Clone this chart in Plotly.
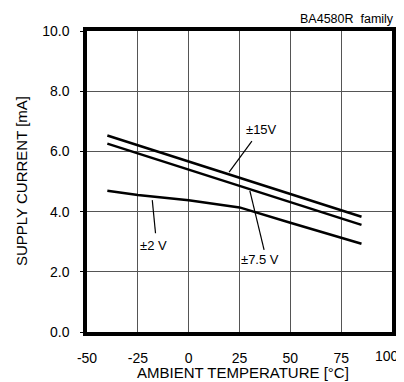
import plotly.graph_objects as go

temp_15 = [-40, 85]
cur_15 = [6.53, 3.83]
temp_75 = [-40, 85]
cur_75 = [6.26, 3.56]
temp_2 = [-40, -25, 0, 25, 50, 85]
cur_2 = [4.69, 4.55, 4.38, 4.14, 3.63, 2.93]

x_ticks = [-50, -25, 0, 25, 50, 75, 100]
y_ticks = [0, 2, 4, 6, 8, 10]

font = "Liberation Sans, Arial, sans-serif"
fig = go.Figure()
for xs, ys, nm in [(temp_15, cur_15, "±15V"), (temp_75, cur_75, "±7.5 V"), (temp_2, cur_2, "±2 V")]:
    fig.add_trace(go.Scatter(x=xs, y=ys, mode="lines", name=nm,
                             line=dict(color="black", width=2.5), showlegend=False))

# leader lines
leaders = [((31.1, 6.34), (19.9, 5.31)), ((30.1, 4.69), (37.1, 2.73)), ((-17.9, 4.38), (-16.3, 3.28))]
for (x0, y0), (x1, y1) in leaders:
    fig.add_shape(type="line", x0=x0, y0=y0, x1=x1, y1=y1, line=dict(color="black", width=1.2))

labels = [(36, 6.73, "±15V"), (35, 2.41, "±7.5 V"), (-17.4, 2.87, "±2 V")]
for x, y, t in labels:
    fig.add_annotation(x=x, y=y, text=t, showarrow=False, font=dict(size=13, color="black", family=font))

fig.add_annotation(xref="paper", yref="paper", x=1.0, y=1.0, yshift=12, xshift=4, xanchor="right", yanchor="middle",
                   text="BA4580R  family", showarrow=False, font=dict(size=12.5, color="black", family=font))

# last x tick label is nudged left (as in the reference) so it stays inside the page
x_ticktext = [str(v) for v in x_ticks]
last_label = x_ticktext[-1]
x_ticktext[-1] = ""
fig.add_annotation(x=x_ticks[-1], y=0, yshift=-24, xshift=-5, xanchor="center", yanchor="middle",
                   text=last_label, showarrow=False, font=dict(size=14, color="black", family=font))

# axis titles
fig.add_annotation(xref="paper", yref="paper", x=0.5, y=0, yshift=-40, xshift=3, xanchor="center", yanchor="middle",
                   text="AMBIENT TEMPERATURE [°C]", showarrow=False, font=dict(size=15, color="black", family=font))
fig.add_annotation(xref="paper", yref="paper", x=0, y=0.5, xshift=-65.5, xanchor="center", yanchor="middle",
                   textangle=-90, text="SUPPLY CURRENT [mA]", showarrow=False,
                   font=dict(size=15, color="black", family=font))

# page body has an 8px default margin, so the figure is sized/offset to compensate
fig.update_layout(
    width=396, height=374,
    margin=dict(l=79, r=11.5, t=23, b=50),
    paper_bgcolor="white", plot_bgcolor="white",
    font=dict(family=font, size=14, color="black"),
)
fig.update_xaxes(range=[-50, 100], tickvals=x_ticks, ticktext=x_ticktext,
                 showgrid=True, gridcolor="#555", gridwidth=1, zeroline=False,
                 showline=True, linecolor="black", linewidth=3.5, mirror=True,
                 ticks="", ticklabelstandoff=10, automargin=False, tickfont=dict(size=14))
fig.update_yaxes(range=[0, 10], tickvals=y_ticks, ticktext=[f"{v:.1f}" for v in y_ticks],
                 showgrid=True, gridcolor="#555", gridwidth=1, zeroline=False,
                 showline=True, linecolor="black", linewidth=3.5, mirror=True,
                 ticks="outside", ticklen=3, tickcolor="black", ticklabelstandoff=8,
                 automargin=False, tickfont=dict(size=14))

fig.write_html("out.html")
